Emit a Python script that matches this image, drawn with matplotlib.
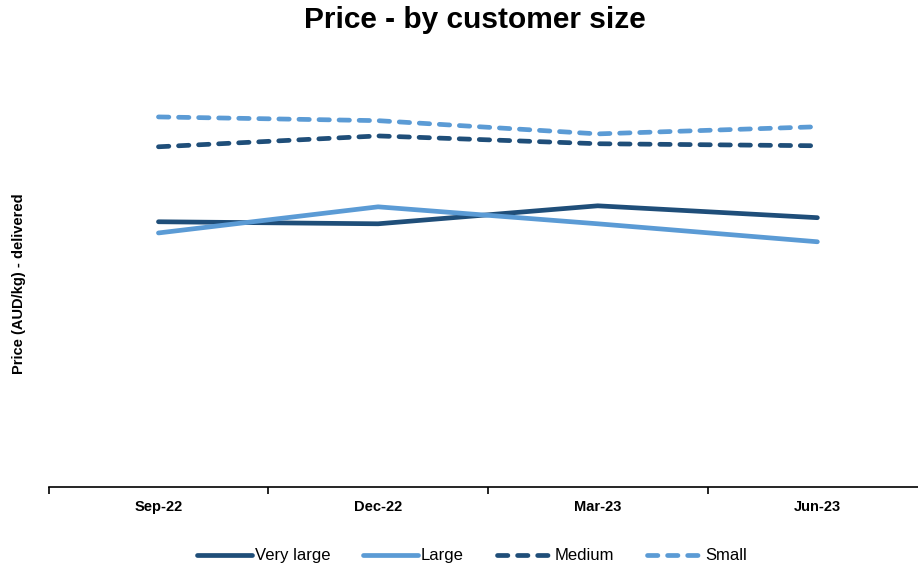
import matplotlib
matplotlib.use("Agg")
import matplotlib.pyplot as plt
from matplotlib.ticker import FixedLocator, NullFormatter, FixedFormatter

plt.rcParams['font.family'] = ['Liberation Sans', 'DejaVu Sans']

quarters = ["Sep-22", "Dec-22", "Mar-23", "Jun-23"]
very_large = [7.82, 7.76, 8.29, 7.94]
large = [7.49, 8.26, 7.76, 7.23]
medium = [10.03, 10.35, 10.12, 10.06]
small = [10.91, 10.80, 10.41, 10.62]

dark = "#1F4E79"
light = "#5B9BD5"

fig = plt.figure(figsize=(9.18, 5.67), dpi=100)
ax = fig.add_axes([0.053, 0.141, 0.957, 0.718])

x = list(range(len(quarters)))
lw = 3.4
dash = (0, (2.2, 2.05))
ax.plot(x, very_large, color=dark, lw=lw, label="Very large", solid_capstyle="round")
ax.plot(x, large, color=light, lw=lw, label="Large", solid_capstyle="round")
ax.plot(x, medium, color=dark, lw=lw, ls=dash, label="Medium", dash_capstyle="round")
ax.plot(x, small, color=light, lw=lw, ls=dash, label="Small", dash_capstyle="round")

ax.set_xlim(-0.5, len(quarters) - 0.5)
ax.set_ylim(0, 12)

ax.xaxis.set_major_locator(FixedLocator(x))
ax.xaxis.set_major_formatter(FixedFormatter(quarters))
ax.xaxis.set_minor_locator(FixedLocator([i - 0.5 for i in range(len(quarters) + 1)]))
ax.xaxis.set_minor_formatter(NullFormatter())
ax.tick_params(axis="x", which="major", length=0, pad=9, labelsize=10.5)
ax.tick_params(axis="x", which="minor", length=5, width=1.2, color="black")
for lbl in ax.get_xticklabels():
    lbl.set_fontweight("bold")
ax.set_yticks([])

for side in ["top", "right", "left"]:
    ax.spines[side].set_visible(False)
ax.spines["bottom"].set_linewidth(1.2)

ax.set_ylabel("Price (AUD/kg) - delivered", fontsize=10.5, fontweight="bold", labelpad=16)

fig.suptitle("Price - by customer size", x=0.517, fontsize=21.5, fontweight="bold", y=0.99)

leg = fig.legend(loc="lower center", ncol=4, frameon=False, fontsize=12,
                 bbox_to_anchor=(0.514, -0.02), handlelength=3.3, columnspacing=2.0,
                 handletextpad=0.15)

fig.savefig("out.png", dpi=100)
